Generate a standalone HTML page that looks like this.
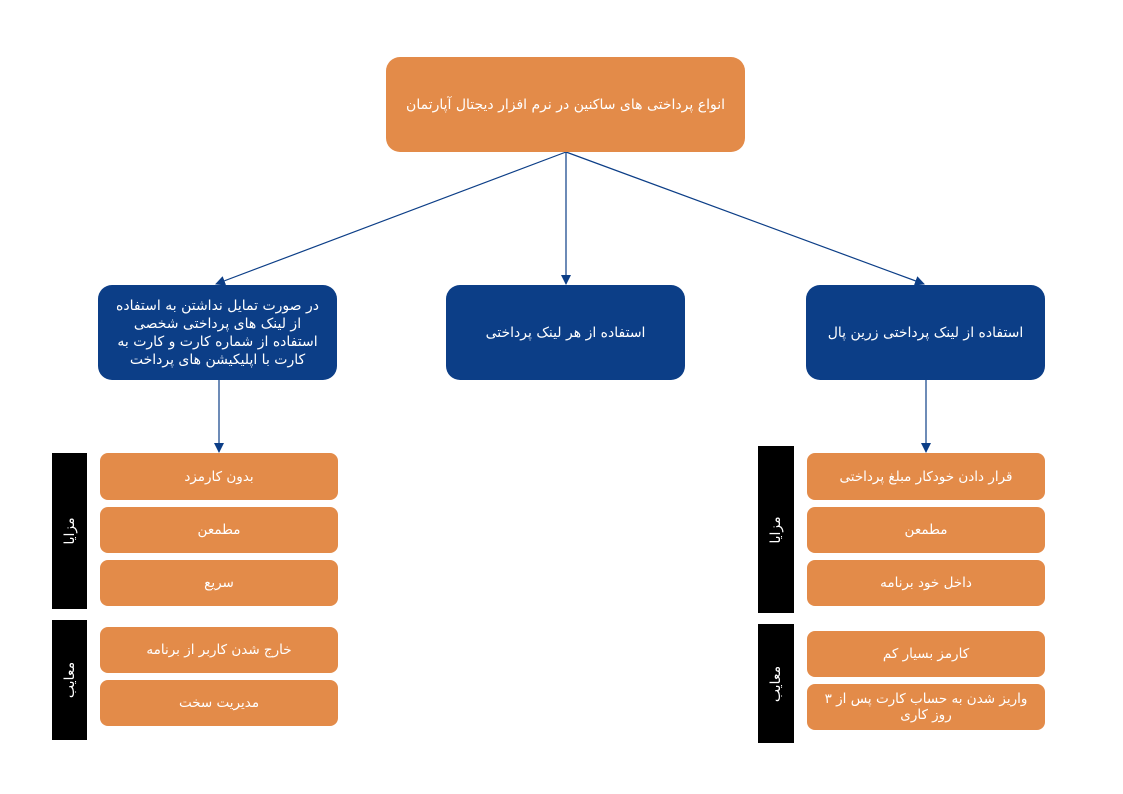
<!DOCTYPE html>
<html><head><meta charset="utf-8"><style>
body{margin:0;width:1123px;height:794px;background:#fff;position:relative;overflow:hidden;font-family:"DejaVu Sans","Liberation Sans",sans-serif;}
.b{position:absolute;display:flex;align-items:center;justify-content:center;text-align:center;color:#fff;direction:rtl;box-sizing:border-box;}
.o{background:#e38b49;border-radius:8px;font-size:13.5px;}
.n{background:#0c3e87;border-radius:14px;font-size:14px;padding:0 12px;line-height:18px;}
.k{background:#000;position:absolute;}
.k span{position:absolute;left:50%;top:50%;transform:translate(-50%,-50%) rotate(-90deg);color:#fff;font-size:14px;white-space:nowrap;direction:rtl;}
</style></head><body>
<svg width="1123" height="794" style="position:absolute;left:0;top:0">
<defs><marker id="a" markerWidth="10" markerHeight="10" refX="9" refY="5" orient="auto" markerUnits="userSpaceOnUse"><path d="M0,0 L10,5 L0,10z" fill="#0c3e87"/></marker></defs>
<g stroke="#0c3e87" stroke-width="1.2" fill="none" marker-end="url(#a)">
<line x1="566" y1="152" x2="216" y2="284"/>
<line x1="566" y1="152" x2="566" y2="284"/>
<line x1="566" y1="152" x2="924" y2="284"/>
<line x1="219" y1="380" x2="219" y2="452"/>
<line x1="926" y1="380" x2="926" y2="452"/>
</g></svg>
<div class="b o" style="left:386px;top:57px;width:359px;height:95px;border-radius:14px;font-size:14px">انواع پرداختی های ساکنین در نرم افزار دیجتال آپارتمان</div>
<div class="b n" style="left:98px;top:285px;width:239px;height:95px">در صورت تمایل نداشتن به استفاده از لینک های پرداختی شخصی استفاده از شماره کارت و کارت به کارت با اپلیکیشن های پرداخت</div>
<div class="b n" style="left:446px;top:285px;width:239px;height:95px">استفاده از هر لینک پرداختی</div>
<div class="b n" style="left:806px;top:285px;width:239px;height:95px">استفاده از لینک پرداختی زرین پال</div>

<div class="k" style="left:52px;top:453px;width:35px;height:156px"><span>مزایا</span></div>
<div class="k" style="left:52px;top:620px;width:35px;height:120px"><span>معایب</span></div>
<div class="b o" style="left:100px;top:453px;width:238px;height:47px">بدون کارمزد</div>
<div class="b o" style="left:100px;top:507px;width:238px;height:46px">مطمعن</div>
<div class="b o" style="left:100px;top:560px;width:238px;height:46px">سریع</div>
<div class="b o" style="left:100px;top:627px;width:238px;height:46px">خارج شدن کاربر از برنامه</div>
<div class="b o" style="left:100px;top:680px;width:238px;height:46px">مدیریت سخت</div>

<div class="k" style="left:758px;top:446px;width:36px;height:167px"><span>مزایا</span></div>
<div class="k" style="left:758px;top:624px;width:36px;height:119px"><span>معایب</span></div>
<div class="b o" style="left:807px;top:453px;width:238px;height:47px">قرار دادن خودکار مبلغ پرداختی</div>
<div class="b o" style="left:807px;top:507px;width:238px;height:46px">مطمعن</div>
<div class="b o" style="left:807px;top:560px;width:238px;height:46px">داخل خود برنامه</div>
<div class="b o" style="left:807px;top:631px;width:238px;height:46px">کارمز بسیار کم</div>
<div class="b o" style="left:807px;top:684px;width:238px;height:46px;line-height:16px;padding:0 10px">واریز شدن به حساب کارت پس از ۳ روز کاری</div>
</body></html>
